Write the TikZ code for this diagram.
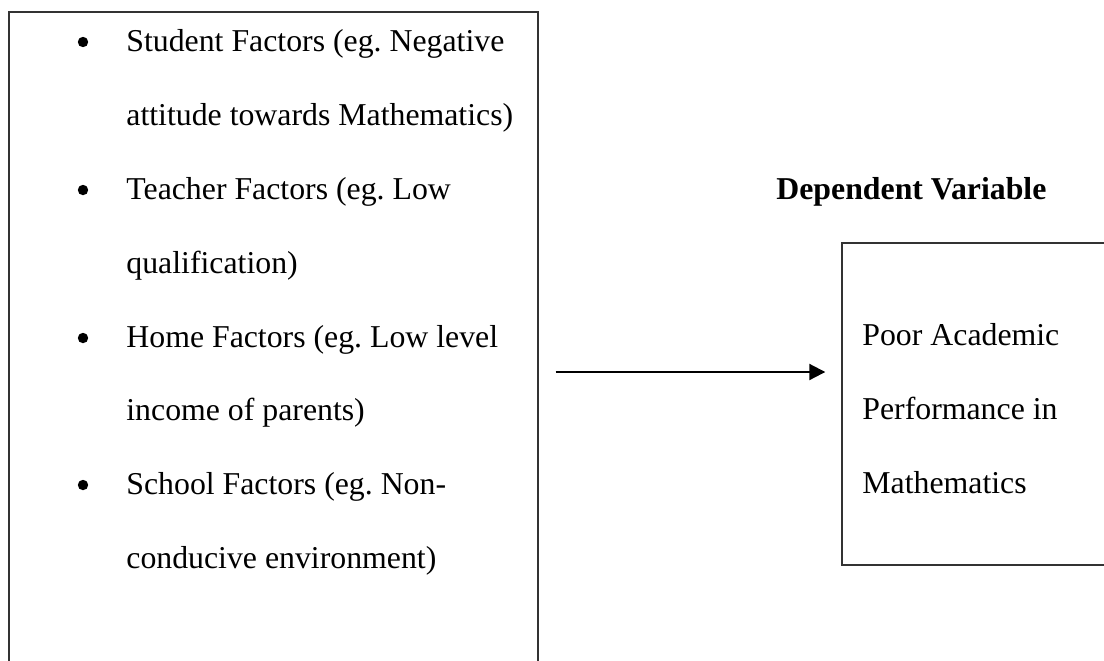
\documentclass[tikz,border=0pt]{standalone}
\usepackage{fontspec}
\setmainfont{Liberation Serif}
\usetikzlibrary{arrows.meta}
\frenchspacing
\tikzset{
  frame/.style={draw=black!80, line width=0.7pt, inner sep=0pt},
  line/.style={anchor=base west, inner sep=0pt, font=\fontsize{15.9}{19}\selectfont},
  dot/.style={circle, fill=black, inner sep=0pt, minimum size=5.2pt},
  conn/.style={-{Triangle[length=8pt,width=8pt]}, line width=1pt, shorten <=8.5pt, shorten >=8pt}
}
\begin{document}
\begin{tikzpicture}[x=0.5pt,y=-0.5pt]
    \useasboundingbox (0,0) rectangle (1104,660);
    \clip (0,0) rectangle (1104,660);
    % boxes
    \node[frame, minimum width=264.5pt, minimum height=360pt] (causes) at (273.5,372) {};
    \node[frame, minimum width=144pt, minimum height=161pt] (effect) at (986,404) {};
    % independent variables
    \node[dot] (b1) at (83,42) {};
    \node[line] (s1) at (126,51) {Student Factors (eg. Negative};
    \node[line] (s2) at (126,125) {attitude towards Mathematics)};
    \node[dot] (b2) at (83,190) {};
    \node[line] (t1) at (126,199) {Teacher Factors (eg. Low};
    \node[line] (t2) at (126,273) {qualification)};
    \node[dot] (b3) at (83,338) {};
    \node[line] (h1) at (126,347) {Home Factors (eg. Low level};
    \node[line] (h2) at (126,420) {income of parents)};
    \node[dot] (b4) at (83,485) {};
    \node[line] (c1) at (126,494) {School Factors (eg. Non-};
    \node[line] (c2) at (126,568) {conducive environment)};
    % dependent variable
    \node[line, font=\fontsize{15.9}{19}\selectfont\bfseries] (dv) at (776,199) {Dependent Variable};
    \node[line] (p1) at (862,345) {Poor Academic};
    \node[line] (p2) at (862,419) {Performance in};
    \node[line] (p3) at (862,493) {Mathematics};
    \draw[conn] (causes.east) -- (effect.west |- causes.east);
\end{tikzpicture}
\end{document}
